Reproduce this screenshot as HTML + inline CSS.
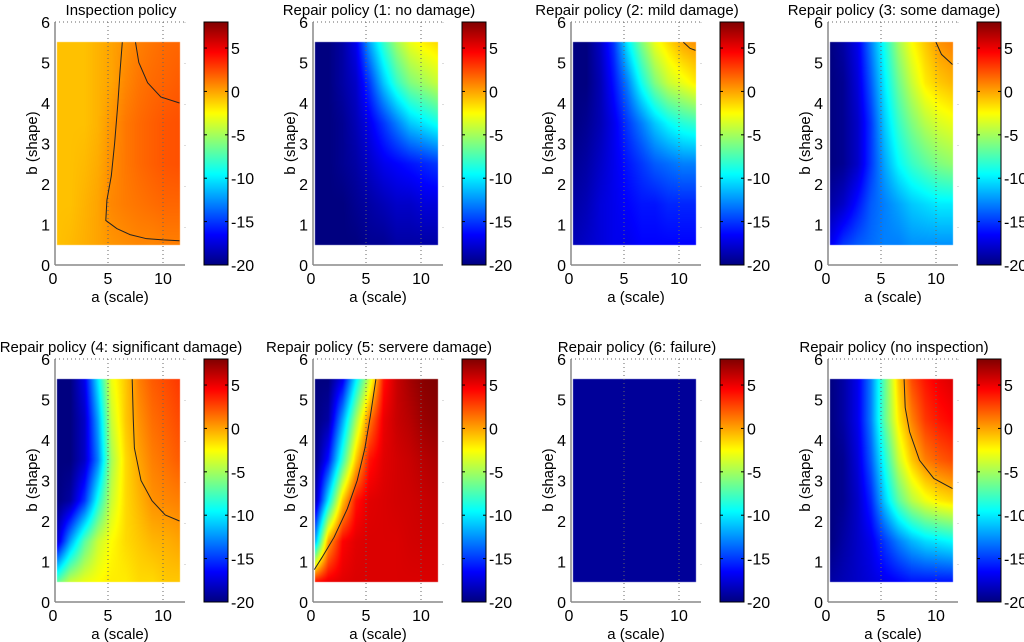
<!DOCTYPE html>
<html><head><meta charset="utf-8">
<style>
html,body{margin:0;padding:0;background:#fff;}
#wrap{position:relative;width:1024px;height:642px;overflow:hidden;}
canvas,svg{position:absolute;left:0;top:0;}
text{font-family:"Liberation Sans",sans-serif;fill:#000;}
</style></head>
<body>
<div id="wrap">
<canvas id="cv" width="1024" height="642"></canvas>
<svg id="sv" width="1024" height="642"></svg>
</div>
<script>
// ---- data ----
const titles = ["Inspection policy","Repair policy (1: no damage)","Repair policy (2: mild damage)","Repair policy (3: some damage)",
"Repair policy (4: significant damage)","Repair policy (5: servere damage)","Repair policy (6: failure)","Repair policy (no inspection)"];
const aCenters = [0.4,1.6,2.9,4.1,5.3,6.6,7.8,9.0,10.3,11.5];
const bCenters = [5.5,4.5,3.5,2.5,1.5,0.5];
const xTicks = [0,5,10];
const yTicks = [0,1,2,3,4,5,6];
const cbTicks = [5,0,-5,-10,-15,-20];
const cMin = -20, cMax = 8;
const grid0 = [
[-0.8,-0.8,-0.8,-0.4,0,0.5,1,1.3,1.6,1.7],
[-0.8,-0.8,-0.8,-0.4,0,0.8,1.3,1.6,1.8,2],
[-0.8,-0.8,-0.8,-0.4,0.4,1.2,1.6,1.9,2.2,2.3],
[-0.8,-0.8,-0.6,-0.2,0.6,1.2,1.6,1.9,2.2,2.3],
[-0.8,-0.8,-0.4,0,0.8,1.1,1.3,1.5,1.7,1.7],
[-0.8,-0.6,-0.3,0,0.4,0.6,0.8,0.8,1,1]];
const grid1 = [
[-20,-20,-19,-17,-12,-8,-5,-3,-2,-1.5],
[-20,-20,-19,-18,-15,-11,-8,-6,-5,-4],
[-20,-20,-19.5,-18.5,-17,-15,-13,-11,-10,-9],
[-20,-20,-19.5,-19,-18,-17,-16.5,-16,-15.5,-15],
[-20,-20,-20,-19.5,-19,-18.5,-18,-18,-17.5,-17.5],
[-20,-20,-20,-20,-19.5,-19.5,-19,-19,-19,-19]];
const grid2 = [
[-20,-20,-18,-15,-10,-6,-3,-1.5,0,0.5],
[-20,-20,-18.5,-16,-13,-9,-6,-4,-3,-2],
[-20,-19.5,-18.5,-17,-15,-13,-11,-9.5,-8.5,-8],
[-19.5,-19,-18,-17,-16,-15,-14,-13.5,-13,-13],
[-19,-18.5,-17.5,-17,-16.5,-16,-16,-15.5,-15.5,-15.5],
[-18.5,-18,-17.5,-17,-17,-16.5,-16.5,-16.5,-16.5,-16.5]];
const grid3 = [
[-20,-19,-17,-13,-9,-5,-2.5,-1,0.5,1],
[-20,-19.5,-17.5,-14,-10,-6.5,-4,-2,-1,-0.5],
[-20,-19.5,-18,-15,-11,-8,-6,-4.5,-3.5,-3],
[-20,-19.5,-18,-15,-12,-9.5,-8,-7,-6,-5.5],
[-19,-18,-16,-14,-13,-12,-11,-10.5,-10,-10],
[-17,-15,-14,-13.5,-13,-13,-12.5,-12.5,-12.5,-12.5]];
const grid4 = [
[-20,-20,-17,-10,-3,-1,1,2,2.5,3],
[-20,-20,-18,-12,-4,-1,0.5,1.5,2,2.5],
[-20,-20,-18,-13,-5,-1.5,0,1,1.5,2],
[-20,-19,-15,-9,-4,-1.5,-0.5,0.5,0.8,1],
[-18,-12,-7,-4,-2.5,-1.5,-1,-0.5,-0.3,0],
[-7,-4,-3,-2.5,-2,-2,-1.5,-1.5,-1,-1]];
const grid5 = [
[-20,-20,-17,-10,-4,4,6,7,7.8,8],
[-20,-19,-12,-5,1,5,6,6.5,7.3,7.6],
[-20,-16,-8,-1,4,5.3,5.7,6,6.5,6.8],
[-19,-10,-1,4,5.3,5.5,5.7,5.8,6,6.2],
[-12,0,4.5,5.3,5.5,5.5,5.5,5.7,5.8,5.8],
[4,5,5.3,5.5,5.5,5.5,5.5,5.5,5.5,5.5]];
const grid6 = [
[-19.3,-19.3,-19.3,-19.3,-19.3,-19.3,-19.3,-19.3,-19.3,-19.3],
[-19.3,-19.3,-19.3,-19.3,-19.3,-19.3,-19.3,-19.3,-19.3,-19.3],
[-19.3,-19.3,-19.3,-19.3,-19.3,-19.3,-19.3,-19.3,-19.3,-19.3],
[-19.3,-19.3,-19.3,-19.3,-19.3,-19.3,-19.3,-19.3,-19.3,-19.3],
[-19.3,-19.3,-19.3,-19.3,-19.3,-19.3,-19.3,-19.3,-19.3,-19.3],
[-19.3,-19.3,-19.3,-19.3,-19.3,-19.3,-19.3,-19.3,-19.3,-19.3]];
const grid7 = [
[-20,-19,-17,-13,-7,-1,2.5,4,5,5.5],
[-20,-19,-17,-13,-7,-2,1,3,4,4.5],
[-20,-19.5,-17.5,-14,-9,-4,-1,1,2,2.5],
[-20,-19.5,-18,-15.5,-11,-7,-4.5,-3,-2,-1.5],
[-20,-19,-18,-17,-15,-13,-11.5,-10.5,-10,-9.5],
[-19,-18.5,-18,-17.5,-17,-16.5,-16,-16,-16,-16]];
const grids = [grid0,grid1,grid2,grid3,grid4,grid5,grid6,grid7];
// contour polylines [a,b]
const contours0 = [[[6.3,5.5],[6.1,4.8],[5.9,4.0],[5.6,3.0],[5.3,2.2],[4.9,1.6],[4.8,1.1],[5.8,0.9],[7,0.75],[8.5,0.65],[10,0.62],[11.5,0.6]],
                   [[7.5,5.5],[7.8,5.0],[8.6,4.5],[9.8,4.15],[11.5,4.0]]];
const contours1 = [];
const contours2 = [[[10.4,5.5],[11,5.35],[11.5,5.3]]];
const contours3 = [[[10,5.5],[10.5,5.2],[11.5,4.95]]];
const contours4 = [[[7.2,5.5],[7.3,4.5],[7.4,3.8],[8,3.0],[9,2.5],[10.2,2.15],[11.5,2.0]]];
const contours5 = [[[5.9,5.5],[5.4,4.6],[4.9,3.8],[4.2,3.0],[3.3,2.3],[2.1,1.6],[1,1.1],[0.3,0.8]]];
const contours6 = [];
const contours7 = [[[7.1,5.5],[7.2,4.8],[7.6,4.2],[8.5,3.5],[9.8,3.05],[11.5,2.8]]];
const contours = [contours0,contours1,contours2,contours3,contours4,contours5,contours6,contours7];

// ---- helpers ----
const colOff=[0,258,516,773], rowOff=[0,337];
function jet(v){
  let t=(v-cMin)/(cMax-cMin); t=Math.max(0,Math.min(1,t));
  const f=x=>Math.max(0,Math.min(1,x));
  const r=f(1.5-Math.abs(4*t-3)), g=f(1.5-Math.abs(4*t-2)), b=f(1.5-Math.abs(4*t-1));
  return [Math.round(r*255),Math.round(g*255),Math.round(b*255)];
}
const NS="http://www.w3.org/2000/svg";
const sv=document.getElementById('sv');
function mk(tag,attrs,parent){const e=document.createElementNS(NS,tag);for(const k in attrs)e.setAttribute(k,attrs[k]);(parent||sv).appendChild(e);return e;}
const ctx=document.getElementById('cv').getContext('2d');

for(let p=0;p<8;p++){
  const ox=colOff[p%4], oy=rowOff[Math.floor(p/4)];
  const X=a=>ox+53+a*11, Y=b=>oy+265-b*40.5;
  const g=mk('g',{});
  
  
  // heatmap
  const grid=grids[p];
  const a0=aCenters[0],a1=aCenters[aCenters.length-1];
  const x0=Math.round(X(a0)),x1=Math.round(X(a1)),y0=Math.round(Y(5.5)),y1=Math.round(Y(0.5));
  const img=ctx.createImageData(x1-x0,y1-y0);
  for(let py=0;py<y1-y0;py++){
    const b=5.5-(py+0.5)/(y1-y0)*5;
    let ri=(bCenters[0]-b)/(bCenters[0]-bCenters[bCenters.length-1])*(bCenters.length-1);
    const r0=Math.min(Math.floor(ri),bCenters.length-2), fr=ri-r0;
    for(let px=0;px<x1-x0;px++){
      const a=a0+(px+0.5)/(x1-x0)*(a1-a0);
      let ci=0; while(ci<aCenters.length-2 && a>aCenters[ci+1]) ci++;
      const fc=(a-aCenters[ci])/(aCenters[ci+1]-aCenters[ci]);
      const v=(grid[r0][ci]*(1-fc)+grid[r0][ci+1]*fc)*(1-fr)+(grid[r0+1][ci]*(1-fc)+grid[r0+1][ci+1]*fc)*fr;
      const c=jet(v); const k=(py*(x1-x0)+px)*4;
      img.data[k]=c[0];img.data[k+1]=c[1];img.data[k+2]=c[2];img.data[k+3]=255;
    }
  }
  ctx.putImageData(img,x0,y0);
  // colorbar
  const cbx=ox+204,cbw=24,cbt=oy+22,cbb=oy+265;
  for(let y=cbt;y<cbb;y++){const v=cMax-(y-cbt+0.5)/(cbb-cbt)*(cMax-cMin);const c=jet(v);ctx.fillStyle=`rgb(${c[0]},${c[1]},${c[2]})`;ctx.fillRect(cbx,y,cbw,1);}
  const cb=mk('rect',{x:cbx,y:cbt,width:cbw,height:cbb-cbt,fill:'none',stroke:'#000','stroke-width':1},g);
  
  
  const C=v=>cbb-(v-cMin)/(cMax-cMin)*(cbb-cbt);
  cbTicks.forEach(v=>{
    mk('line',{x1:cbx,x2:cbx+3,y1:C(v),y2:C(v),stroke:'#000'},g);
    mk('line',{x1:cbx+cbw-3,x2:cbx+cbw,y1:C(v),y2:C(v),stroke:'#000'},g);
    const t=mk('text',{x:cbx+cbw+3,y:C(v)+6,'font-size':16},g);t.textContent=v;
    
    
  });
  // grid
  xTicks.slice(1).forEach(a=>mk('line',{x1:X(a),x2:X(a),y1:Y(6),y2:Y(0),stroke:'#666','stroke-dasharray':'1,3'},g));
  mk('line',{x1:X(0)+2,x2:X(12),y1:Y(6),y2:Y(6),stroke:'#666','stroke-dasharray':'1,3'},g);
  mk('line',{x1:X(12),x2:X(12),y1:Y(6),y2:Y(0),stroke:'#bbb','stroke-dasharray':'1,40'},g);
  // contours
  contours[p].forEach(line=>{
    const pl=mk('polyline',{points:line.map(q=>X(q[0])+','+Y(q[1])).join(' '),fill:'none',stroke:'#222','stroke-width':1},g);
    
    
  });
  // axes
  mk('line',{x1:X(0)+2,x2:X(0)+2,y1:Y(6),y2:Y(0),stroke:'#888','stroke-width':1.5},g);
  mk('line',{x1:X(0)+2,x2:X(12),y1:Y(0),y2:Y(0),stroke:'#888','stroke-width':1.5},g);
  xTicks.forEach(a=>{const t=mk('text',{x:X(a),y:Y(0)+19,'font-size':16,'text-anchor':'middle'},g);t.textContent=a;
    });
  yTicks.forEach(b=>{const t=mk('text',{x:X(0)-3,y:Y(b)+6,'font-size':16,'text-anchor':'end'},g);t.textContent=b;
    });
  const xl=mk('text',{x:ox+120,y:oy+302,'font-size':15,'text-anchor':'middle'},g);xl.textContent='a (scale)';
  
  const yl=mk('text',{x:0,y:0,'font-size':15,'text-anchor':'middle',transform:`translate(${ox+37},${oy+143}) rotate(-90)`},g);yl.textContent='b (shape)';
  
  const tt=mk('text',{x:ox+121,y:oy+15,'font-size':15,'text-anchor':'middle'},g);tt.textContent=titles[p];
  
}
</script>
</body></html>
